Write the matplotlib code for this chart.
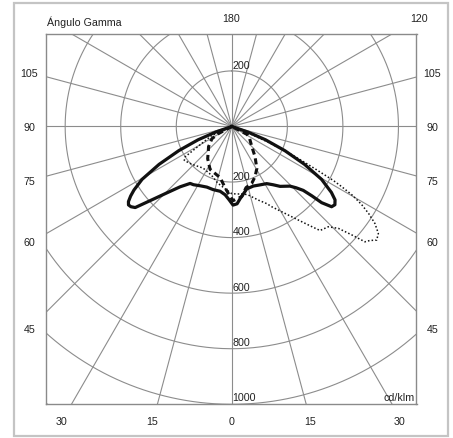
import numpy as np
import matplotlib
matplotlib.use("Agg")
import matplotlib.pyplot as plt
from matplotlib.patches import Rectangle

plt.rcParams["font.family"] = ["Liberation Sans", "DejaVu Sans"]

# Polar grid: rings in cd/klm and spokes every 15 degrees
ring_values = [200, 400, 600, 800, 1000, 1200]
spoke_step = 15

# C0-C180 plane (solid): gamma in degrees (0 = nadir), intensity in cd/klm
gamma_c0 = [-73, -71, -68.5, -65.5, -62.5, -59.5, -57.0, -55.5, -54.0, -52.8,
            -51.5, -50.0, -47.8, -44.8, -40.6, -36.2, -33.4, -28.1, -22.4, -16.5,
            -10.2, -5.6, -2.1, 0.9, 3.9, 6.5, 9.8, 13.5, 19.9, 24.4,
            31.4, 35.3, 38.9, 44.3, 46.4, 48.2, 49.1, 49.7, 51.2, 52.8,
            54.6, 56.5, 59.5, 62.5, 65.5, 68.5, 71, 73]
inten_c0 = [0, 60, 130, 210, 295, 375, 420, 442, 460, 467,
            464, 454, 398, 341, 286, 254, 251, 242, 236, 237,
            237, 247, 264, 283, 279, 262, 246, 231, 228, 232,
            241, 257, 277, 300, 320, 345, 381, 424, 461, 466,
            456, 430, 375, 295, 210, 130, 60, 0]

# C90-C270 plane (dashed)
gamma_c90 = [-70, -62, -58.4, -49.0, -44.3, -36.8, -26.9, -12.8, -6.2, -2.9,
             1.0, 8.1, 13.1, 19.3, 24.9, 30.8, 37.6, 44.6, 56.8, 62.6, 67]
inten_c90 = [0, 55, 84, 111, 121, 145, 173, 189, 222, 242,
             267, 255, 226, 217, 199, 176, 137, 103, 76, 62, 0]

# Plane of maximum intensity (dotted)
gamma_max = [-70, -65.8, -59.6, -57.0, -54.5, -50.0, -45.5, -34.5, -22.7, -14.0,
             -6.3, 0.0, 5.0, 9.8, 13.6, 19.9, 24.4, 26.5, 31.5, 35.4,
             38.6, 40.3, 43.9, 46.3, 47.9, 49.1, 50.5, 51.9, 53.9, 55.9,
             57.5, 59.0, 60.3, 61.3, 62.0, 63.0, 64.0, 65.0, 66.5, 68.5, 70.0]
inten_max = [0, 79, 139, 200, 210, 203, 196, 182, 190, 210,
             225, 242, 244, 246, 254, 282, 305, 323, 367, 413,
             461, 491, 501, 531, 582, 634, 645, 663, 653, 622,
             585, 545, 500, 451, 414, 340, 280, 230, 150, 70, 0]

left_labels = ["105", "90", "75", "60", "45"]
left_label_y = [74, 128.3, 181.7, 243.3, 330]
bottom_labels = ["30", "15", "0", "15", "30"]
bottom_label_x = [62, 152.3, 231.5, 310, 400]
ring_labels = ["200", "200", "400", "600", "800", "1000"]
ring_label_y = [65.7, 176.7, 232.3, 288.3, 343.3, 398.3]

W, H = 453, 439
fig = plt.figure(figsize=(W / 100, H / 100), dpi=100)
fig.patch.set_facecolor("white")


def fx(x):
    return x / W


def fy(y):
    return 1 - y / H


# outer frame
fig.patches.append(Rectangle((fx(14), fy(437)), fx(448) - fx(14), fy(3.5) - fy(437),
                             transform=fig.transFigure, fill=False,
                             edgecolor="#c4c4c4", linewidth=1.6))

ax = fig.add_axes([fx(46), fy(405), (416.5 - 46) / W, (405 - 34.7) / H])
ax.set_xlim(-669, 665)
ax.set_ylim(-999, 334)
ax.set_xticks([])
ax.set_yticks([])
for sp in ax.spines.values():
    sp.set_color("#8a8a8a")
    sp.set_linewidth(1.0)

grid_kw = dict(color="#8c8c8c", linewidth=0.8, zorder=1)
t = np.linspace(0, 2 * np.pi, 721)
for r in ring_values:
    ax.plot(r * np.sin(t), r * np.cos(t), **grid_kw)
for a in np.arange(0, 360, spoke_step):
    ar = np.deg2rad(a)
    ax.plot([0, 3000 * np.sin(ar)], [0, 3000 * np.cos(ar)], **grid_kw)


def to_xy(gamma, inten):
    g = np.deg2rad(np.asarray(gamma, dtype=float))
    i = np.asarray(inten, dtype=float)
    return i * np.sin(g), -i * np.cos(g)


x, y = to_xy(gamma_max, inten_max)
ax.plot(x, y, color="#111111", linewidth=1.1, linestyle=(0, (1, 1.4)), zorder=3)
x, y = to_xy(gamma_c90, inten_c90)
ax.plot(x, y, color="#111111", linewidth=2.2, linestyle=(0, (2, 1.3)), zorder=4)
x, y = to_xy(gamma_c0, inten_c0)
ax.plot(x, y, color="#111111", linewidth=2.3, solid_joinstyle="round", zorder=5)

txt = dict(fontsize=7.7, color="#222222")
fig.text(fx(47), fy(22.7), "Ángulo Gamma", ha="left", va="center", **txt)
fig.text(fx(231.5), fy(19.3), "180", ha="center", va="center", **txt)
fig.text(fx(419.5), fy(19.3), "120", ha="center", va="center", **txt)
for lab, yy in zip(left_labels, left_label_y):
    fig.text(fx(29.5), fy(yy), lab, ha="center", va="center", **txt)
    fig.text(fx(432.5), fy(yy), lab, ha="center", va="center", **txt)
for lab, xx in zip(bottom_labels, bottom_label_x):
    fig.text(fx(xx), fy(422), lab, ha="center", va="center", **txt)
for lab, yy in zip(ring_labels, ring_label_y):
    fig.text(fx(232.5), fy(yy), lab, ha="left", va="center", **txt)
fig.text(fx(415), fy(398.3), "cd/klm", ha="right", va="center", **txt)

fig.savefig("out.png", dpi=100, facecolor="white")
